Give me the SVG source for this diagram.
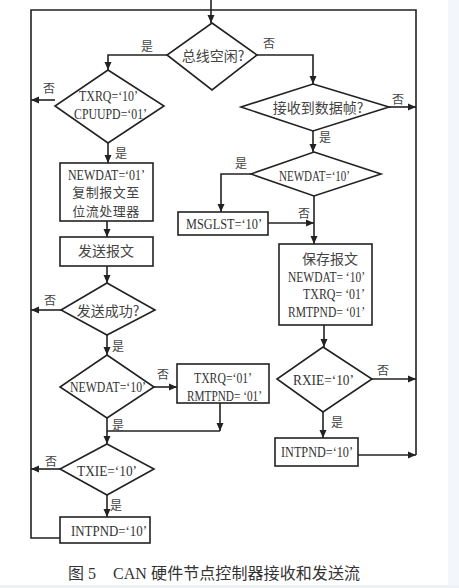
<svg xmlns="http://www.w3.org/2000/svg" width="459" height="588" viewBox="0 0 459 588">
<defs>
<marker id="ah" markerWidth="8" markerHeight="8" refX="8" refY="4" orient="auto" markerUnits="userSpaceOnUse">
<path d="M0,0.5 L8,4 L0,7.5 Z" fill="#222"/>
</marker>
<style>
.ln{fill:none;stroke:#222;stroke-width:1.6}
.ar{fill:none;stroke:#222;stroke-width:1.6;marker-end:url(#ah)}
.sh{fill:#fff;stroke:#222;stroke-width:1.6}
.en{font-family:"Liberation Serif","Noto Sans CJK SC",serif;font-size:14px;fill:#333}
.cn{font-family:"Noto Sans CJK SC","Liberation Serif",sans-serif;font-size:14px;fill:#444}
.cs{font-family:"Noto Sans CJK SC","Liberation Serif",sans-serif;font-size:13px;fill:#444}
.lb{font-family:"Noto Sans CJK SC","Liberation Serif",sans-serif;font-size:12px;fill:#444;text-anchor:middle}
.cap{font-family:"Liberation Serif","Noto Sans CJK SC",serif;font-size:16px;fill:#333}
</style>
</defs>
<rect width="459" height="588" fill="#fff"/>
<rect x="448" y="0" width="11" height="588" fill="#f3f6fa"/>
<rect x="0" y="585" width="459" height="3" fill="#eef1f5"/>

<g id="connectors">
<path class="ar" d="M211,0 V23"/>
<path class="ar" d="M167,55 H108 V70"/>
<path class="ar" d="M257,55 H313 V84"/>
<path class="ar" d="M55,100 H31"/>
<path class="ar" d="M108,143 V163"/>
<path class="ar" d="M107,221 V237"/>
<path class="ar" d="M107,266 V283"/>
<path class="ar" d="M61,310 H31"/>
<path class="ar" d="M107,335 V355"/>
<path class="ar" d="M154,387 H177"/>
<path class="ar" d="M220,403 V431"/>
<path class="ln" d="M220,431 H107"/>
<path class="ar" d="M107,418 V444"/>
<path class="ar" d="M60,469 H31"/>
<path class="ar" d="M107,495 V517"/>
<path class="ln" d="M60,538 H31 V10 H416 V455"/>
<path class="ar" d="M389,107 H416"/>
<path class="ar" d="M313,131 V152"/>
<path class="ar" d="M251,174 H221 V212"/>
<path class="ar" d="M268,223 H314"/>
<path class="ar" d="M314,196 V244"/>
<path class="ar" d="M324,325 V347"/>
<path class="ar" d="M372,379 H416"/>
<path class="ar" d="M323,412 V438"/>
<path class="ar" d="M358,455 H416"/>
</g>

<g id="labels">
<text class="lb" x="147" y="51">是</text>
<text class="lb" x="269" y="48">否</text>
<text class="lb" x="49" y="93">否</text>
<text class="lb" x="121" y="158">是</text>
<text class="lb" x="50" y="305">否</text>
<text class="lb" x="118" y="351">是</text>
<text class="lb" x="163" y="379">否</text>
<text class="lb" x="118" y="430">是</text>
<text class="lb" x="51" y="466">否</text>
<text class="lb" x="116" y="510">是</text>
<text class="lb" x="398" y="104">否</text>
<text class="lb" x="325" y="142">是</text>
<text class="lb" x="241" y="168">是</text>
<text class="lb" x="304" y="218">否</text>
<text class="lb" x="383" y="375">否</text>
<text class="lb" x="337" y="427">是</text>
</g>

<g id="bus-idle">
<polygon class="sh" points="212,23 257,55 212,90 167,55"/>
<text class="cn" x="213" y="61" text-anchor="middle">总线空闲?</text>
</g>

<g id="txrq-check">
<polygon class="sh" points="108,70 164,106 108,143 55,106"/>
<text class="en" x="79" y="101" textLength="59" lengthAdjust="spacingAndGlyphs">TXRQ=‘10’</text>
<text class="en" x="74" y="119" textLength="73" lengthAdjust="spacingAndGlyphs">CPUUPD=‘01’</text>
</g>

<g id="copy-msg">
<rect class="sh" x="60" y="163" width="93" height="58"/>
<text class="en" x="68" y="180" textLength="77" lengthAdjust="spacingAndGlyphs">NEWDAT=‘01’</text>
<text class="cs" x="106" y="197" text-anchor="middle" letter-spacing="0.5">复制报文至</text>
<text class="cs" x="106" y="216" text-anchor="middle" letter-spacing="0.5">位流处理器</text>
</g>

<g id="send-msg">
<rect class="sh" x="60" y="237" width="93" height="29"/>
<text class="cn" x="106" y="256" text-anchor="middle">发送报文</text>
</g>

<g id="send-ok">
<polygon class="sh" points="107,283 155,310 107,335 61,310"/>
<text class="cn" x="108" y="316" text-anchor="middle">发送成功?</text>
</g>

<g id="newdat-tx">
<polygon class="sh" points="107,355 154,387 107,418 60,387"/>
<text class="en" x="70" y="392" font-size="12.5" textLength="76" lengthAdjust="spacingAndGlyphs">NEWDAT=‘10’</text>
</g>

<g id="txrq-set">
<rect class="sh" x="177" y="364" width="92" height="39"/>
<text class="en" x="194" y="383" textLength="58" lengthAdjust="spacingAndGlyphs">TXRQ=‘01’</text>
<text class="en" x="187" y="401" textLength="75" lengthAdjust="spacingAndGlyphs">RMTPND= ‘01’</text>
</g>

<g id="txie-check">
<polygon class="sh" points="107,444 154,469 107,495 60,469"/>
<text class="en" x="77" y="476" textLength="60" lengthAdjust="spacingAndGlyphs">TXIE=‘10’</text>
</g>

<g id="intpnd-tx">
<rect class="sh" x="60" y="517" width="90" height="26"/>
<text class="en" x="71" y="536" textLength="76" lengthAdjust="spacingAndGlyphs">INTPND=‘10’</text>
</g>

<g id="frame-recv">
<polygon class="sh" points="313,84 389,107 313,131 241,107"/>
<text class="cn" x="318" y="113" text-anchor="middle">接收到数据帧?</text>
</g>

<g id="newdat-rx">
<polygon class="sh" points="314,152 381,174 314,196 251,174"/>
<text class="en" x="279" y="181" textLength="71" lengthAdjust="spacingAndGlyphs">NEWDAT=‘10’</text>
</g>

<g id="msglst">
<rect class="sh" x="178" y="212" width="90" height="23"/>
<text class="en" x="186" y="229" textLength="76" lengthAdjust="spacingAndGlyphs">MSGLST=‘10’</text>
</g>

<g id="save-msg">
<rect class="sh" x="279" y="244" width="93" height="81"/>
<text class="cn" x="330" y="264" text-anchor="middle">保存报文</text>
<text class="en" x="288" y="282" textLength="77" lengthAdjust="spacingAndGlyphs">NEWDAT= ‘10’</text>
<text class="en" x="303" y="299" textLength="62" lengthAdjust="spacingAndGlyphs">TXRQ= ‘01’</text>
<text class="en" x="288" y="317" textLength="77" lengthAdjust="spacingAndGlyphs">RMTPND= ‘01’</text>
</g>

<g id="rxie-check">
<polygon class="sh" points="323,347 372,379 323,412 277,379"/>
<text class="en" x="293" y="385" textLength="61" lengthAdjust="spacingAndGlyphs">RXIE=‘10’</text>
</g>

<g id="intpnd-rx">
<rect class="sh" x="275" y="438" width="83" height="28"/>
<text class="en" x="281" y="457" textLength="72" lengthAdjust="spacingAndGlyphs">INTPND=‘10’</text>
</g>

<g id="caption">
<text class="cap" x="68" y="579">图 5</text>
<text class="cap" x="113" y="579" textLength="247" lengthAdjust="spacing">CAN 硬件节点控制器接收和发送流</text>
</g>
</svg>
